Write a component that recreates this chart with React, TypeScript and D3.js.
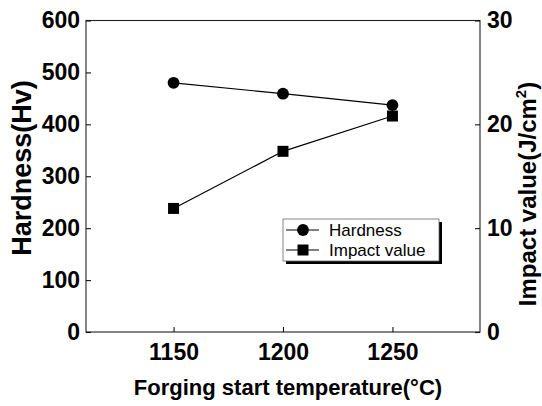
import React, { useEffect, useRef } from "react";
import * as d3 from "d3";

const temps = [1150, 1200, 1250];
const hardness = [480, 459, 437];
const impact = [11.9, 17.4, 20.8];
const xTicks = [1150, 1200, 1250];
const leftTicks = [0, 100, 200, 300, 400, 500, 600];
const rightTicks = [0, 10, 20, 30];
const legendLabels = ["Hardness", "Impact value"];

const W = 542;
const H = 406;
const FONT = "'Liberation Sans', Arial, Helvetica, sans-serif";

export default function App() {
  const ref = useRef<SVGSVGElement>(null);

  useEffect(() => {
    const svg = d3.select(ref.current);
    svg.selectAll("*").remove();

    const left = 86, right = 480, top = 20.5, bottom = 332;
    const x = d3.scaleLinear().domain([1110, 1290]).range([left, right]);
    const yL = d3.scaleLinear().domain([0, 600]).range([bottom, top]);
    const yR = d3.scaleLinear().domain([0, 30]).range([bottom, top]);

    // frame
    svg.append("rect")
      .attr("x", left).attr("y", top)
      .attr("width", right - left).attr("height", bottom - top)
      .attr("fill", "none").attr("stroke", "#222").attr("stroke-width", 1.1);

    const styleAxis = (g: any) => {
      g.select(".domain").remove();
      g.selectAll("line").attr("stroke", "#111").attr("stroke-width", 1.1);
      g.selectAll("text")
        .attr("font-family", FONT)
        .attr("font-size", 23)
        .attr("font-weight", "bold")
        .attr("fill", "#000");
    };

    svg.append("g")
      .attr("transform", `translate(${left},0)`)
      .call(d3.axisLeft(yL).tickValues(leftTicks).tickSize(-5).tickSizeOuter(0).tickPadding(6))
      .call(styleAxis);

    svg.append("g")
      .attr("transform", `translate(${right},0)`)
      .call(d3.axisRight(yR).tickValues(rightTicks).tickSize(-5).tickSizeOuter(0).tickPadding(7))
      .call(styleAxis)
      .selectAll("text").attr("text-anchor", "start");

    svg.append("g")
      .attr("transform", `translate(0,${bottom})`)
      .call(d3.axisBottom(x).tickValues(xTicks).tickFormat(d3.format("d")).tickSize(-5).tickSizeOuter(0).tickPadding(12))
      .call(styleAxis);

    // titles
    svg.append("text")
      .attr("x", 288).attr("y", 395)
      .attr("text-anchor", "middle")
      .attr("font-family", FONT).attr("font-size", 22).attr("font-weight", "bold")
      .text("Forging start temperature(°C)");

    svg.append("text")
      .attr("transform", `translate(31,168) rotate(-90)`)
      .attr("text-anchor", "middle")
      .attr("font-family", FONT).attr("font-size", 27).attr("font-weight", "bold")
      .text("Hardness(Hv)");

    const rt = svg.append("text")
      .attr("transform", `translate(536,194) rotate(-90)`)
      .attr("text-anchor", "middle")
      .attr("font-family", FONT).attr("font-size", 24).attr("font-weight", "bold");
    rt.append("tspan").text("Impact value(J/cm");
    rt.append("tspan").attr("font-size", 15).attr("dy", -10).text("2");
    rt.append("tspan").attr("dy", 10).text(")");

    // lines
    const hLine = d3.line<number>().x((_, i) => x(temps[i])).y((d) => yL(d));
    const iLine = d3.line<number>().x((_, i) => x(temps[i])).y((d) => yR(d));

    svg.append("path").attr("d", hLine(hardness)!).attr("fill", "none").attr("stroke", "#000").attr("stroke-width", 1.2);
    svg.append("path").attr("d", iLine(impact)!).attr("fill", "none").attr("stroke", "#000").attr("stroke-width", 1.2);

    const circ = d3.symbol().type(d3.symbolCircle).size(110);
    const sq = d3.symbol().type(d3.symbolSquare).size(121);

    svg.selectAll(".hpt").data(hardness).enter().append("path")
      .attr("d", circ()!)
      .attr("transform", (d, i) => `translate(${x(temps[i])},${yL(d)})`)
      .attr("fill", "#000");
    svg.selectAll(".ipt").data(impact).enter().append("path")
      .attr("d", sq()!)
      .attr("transform", (d, i) => `translate(${x(temps[i])},${yR(d)})`)
      .attr("fill", "#000");

    // legend
    const lx = 283, ly = 219, lw = 156, lh = 42;
    svg.append("rect").attr("x", lx + 3).attr("y", ly + 3).attr("width", lw).attr("height", lh).attr("fill", "#000");
    svg.append("rect").attr("x", lx).attr("y", ly).attr("width", lw).attr("height", lh)
      .attr("fill", "#fff").attr("stroke", "#666").attr("stroke-width", 0.8);

    const rows = [ly + 11, ly + 31];
    legendLabels.forEach((lab, i) => {
      svg.append("line").attr("x1", 286).attr("x2", 319).attr("y1", rows[i]).attr("y2", rows[i])
        .attr("stroke", "#000").attr("stroke-width", 1.2);
      svg.append("path").attr("d", (i === 0 ? circ : sq)()!)
        .attr("transform", `translate(303,${rows[i]})`).attr("fill", "#000");
      svg.append("text").attr("x", 329).attr("y", rows[i]).attr("dy", "0.36em")
        .attr("font-family", FONT).attr("font-size", 17)
        .text(lab);
    });
  }, []);

  return (
    <svg
      ref={ref}
      width={W}
      height={H}
      style={{ position: "absolute", left: 0, top: 0, background: "#fff" }}
    />
  );
}
